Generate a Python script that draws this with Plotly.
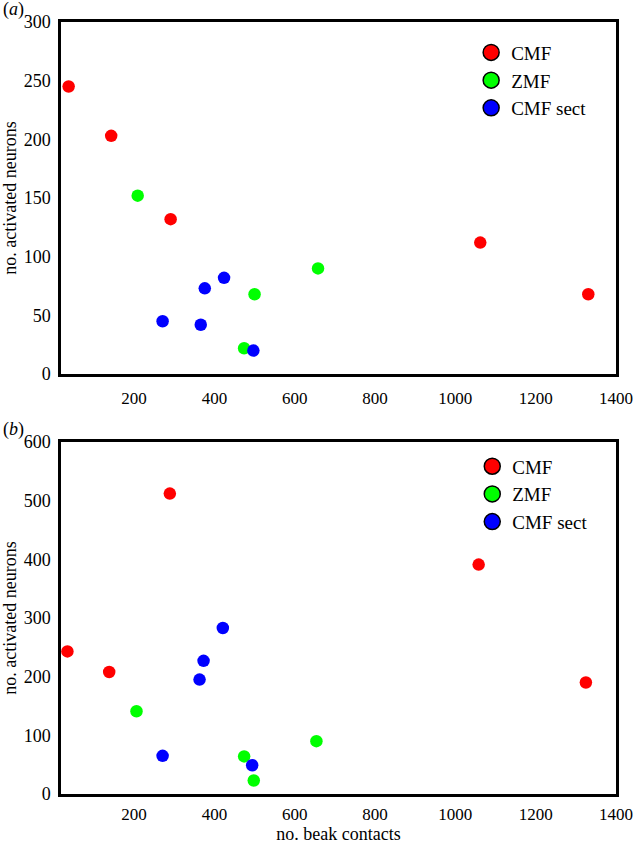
import plotly.graph_objects as go

# Panel (a)
a_cmf_x = [37, 143, 291, 1062, 1331]
a_cmf_y = [245, 203, 132, 112, 68]
a_zmf_x = [209, 500, 474, 658]
a_zmf_y = [152, 68, 22, 90]
a_sect_x = [424, 376, 271, 366, 497]
a_sect_y = [82, 73, 45, 42, 20]

# Panel (b)
b_cmf_x = [34, 138, 289, 1058, 1325]
b_cmf_y = [243, 208, 512, 391, 190]
b_zmf_x = [206, 474, 498, 654]
b_zmf_y = [141, 64, 23, 90]
b_sect_x = [421, 373, 363, 271, 494]
b_sect_y = [283, 227, 195, 65, 49]

names = ["CMF", "ZMF", "CMF sect"]
colors = ["#ff0000", "#00ff00", "#0000ff"]

font_family = "Liberation Serif, Times New Roman, serif"

fig = go.Figure()

panels = [
    ("x", "y", "legend", [(a_cmf_x, a_cmf_y), (a_zmf_x, a_zmf_y), (a_sect_x, a_sect_y)]),
    ("x2", "y2", "legend2", [(b_cmf_x, b_cmf_y), (b_zmf_x, b_zmf_y), (b_sect_x, b_sect_y)]),
]

for xa, ya, leg, series in panels:
    for (xs, ys), nm, col in zip(series, names, colors):
        fig.add_trace(go.Scatter(
            x=xs, y=ys, mode="markers", name=nm, xaxis=xa, yaxis=ya,
            marker=dict(color=col, size=12.5, line=dict(width=0)),
            showlegend=False,
        ))
        # legend entry (larger outlined circle)
        fig.add_trace(go.Scatter(
            x=[None], y=[None], mode="markers", name=nm, xaxis=xa, yaxis=ya,
            marker=dict(color=col, size=20, line=dict(width=1.5, color="black")),
            legend=leg, legendgroup=leg + nm, showlegend=True,
        ))

axis_common = dict(
    showline=True, linewidth=2.5, linecolor="black", mirror=True,
    showgrid=False, zeroline=False, ticks="", automargin=False,
)
ytick_font = dict(family=font_family, size=18, color="black")
xtick_font = dict(family=font_family, size=17, color="black")
title_font = dict(family=font_family, size=18, color="black")
legend_font = dict(family=font_family, size=19, color="black")

fig.update_layout(
    width=634, height=844,
    paper_bgcolor="white", plot_bgcolor="white",
    margin=dict(l=61, r=18, t=22, b=50),
    font=dict(family=font_family, color="black"),
    xaxis=dict(domain=[0, 1], anchor="y", range=[18, 1400],
               tickvals=[200, 400, 600, 800, 1000, 1200, 1400],
               tickfont=xtick_font, ticklabelstandoff=7, **axis_common),
    yaxis=dict(domain=[0.544, 1], anchor="x", range=[0, 300],
               tickvals=[0, 50, 100, 150, 200, 250, 300],
               tickfont=ytick_font, ticklabelstandoff=4,
               title=dict(text="no. activated neurons", font=title_font, standoff=4),
               **axis_common),
    xaxis2=dict(domain=[0, 1], anchor="y2", range=[18, 1400],
                tickvals=[200, 400, 600, 800, 1000, 1200, 1400],
                tickfont=xtick_font, ticklabelstandoff=3,
                title=dict(text="no. beak contacts", font=title_font, standoff=6),
                **axis_common),
    yaxis2=dict(domain=[0, 0.456], anchor="x2", range=[0, 600],
                tickvals=[0, 100, 200, 300, 400, 500, 600],
                tickfont=ytick_font, ticklabelstandoff=4,
                title=dict(text="no. activated neurons", font=title_font, standoff=4),
                **axis_common),
    legend=dict(x=0.739, y=0.985, xanchor="left", yanchor="top",
                bgcolor="rgba(0,0,0,0)", borderwidth=0,
                font=legend_font, tracegroupgap=0),
    legend2=dict(x=0.741, y=0.449, xanchor="left", yanchor="top",
                 bgcolor="rgba(0,0,0,0)", borderwidth=0,
                 font=legend_font, tracegroupgap=0),
    annotations=[
        dict(text="(<i>a</i>)", xref="paper", yref="paper", x=-0.108, y=1.0, yanchor="bottom",
             xanchor="left", showarrow=False, font=dict(family=font_family, size=18)),
        dict(text="(<i>b</i>)", xref="paper", yref="paper", x=-0.108, y=0.456, yanchor="bottom",
             xanchor="left", showarrow=False, font=dict(family=font_family, size=18)),
    ],
)

fig.write_html("out.html", config={"displayModeBar": False},
               post_script="document.body.style.margin='0';")
